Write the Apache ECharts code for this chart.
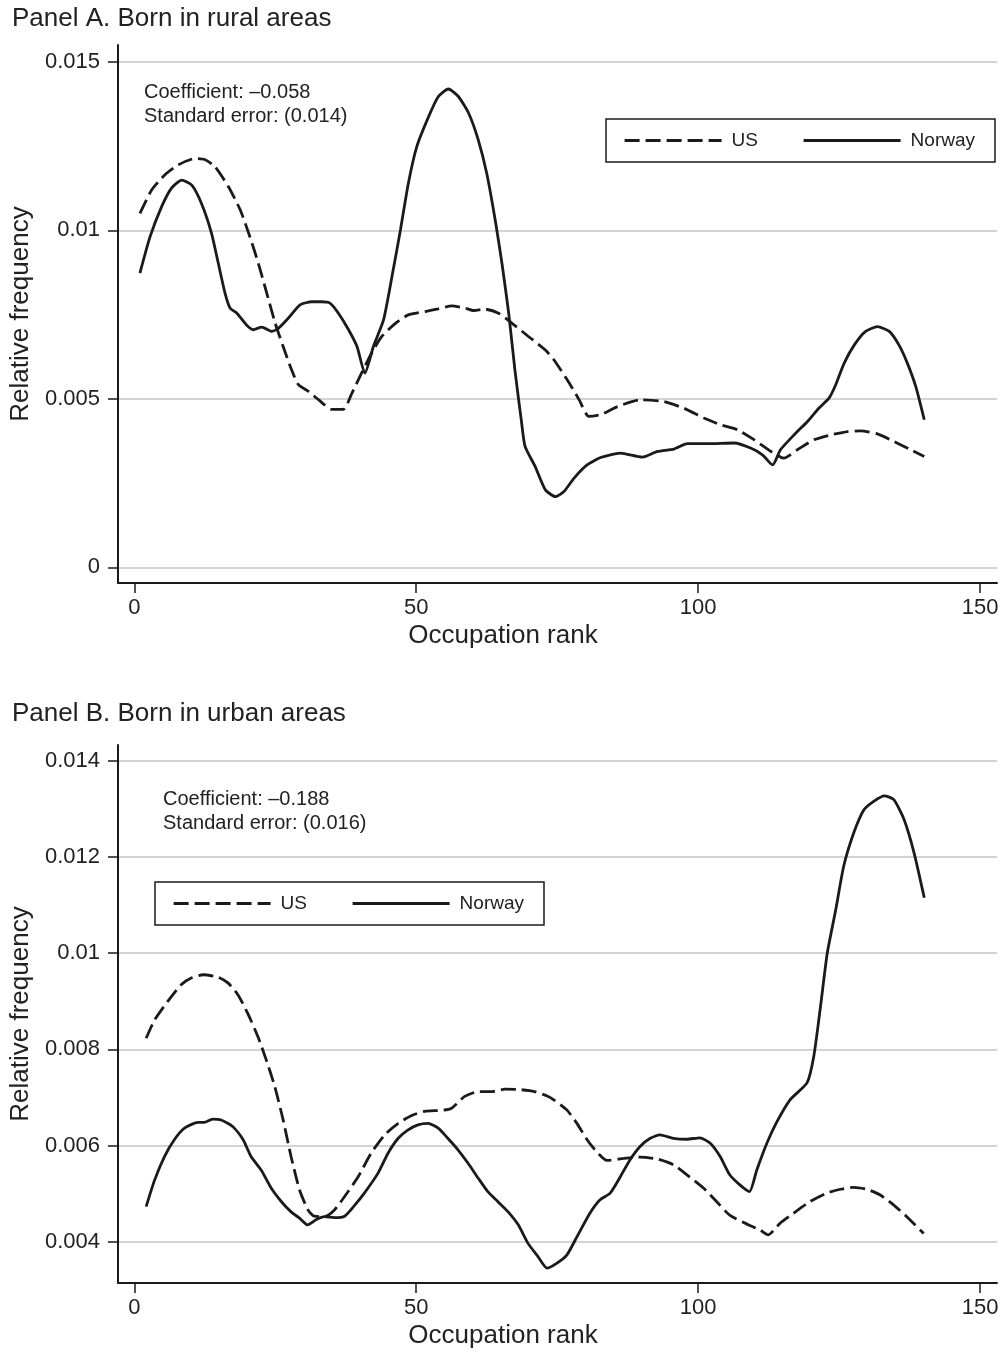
<!DOCTYPE html>
<html><head><meta charset="utf-8">
<script src="https://cdn.jsdelivr.net/npm/echarts@6/dist/echarts.min.js"></script>
<style>html,body{margin:0;padding:0;background:#fff}#c{width:1006px;height:1355px}</style>
</head><body><div id="c"></div><script>
// Panel A: born in rural areas  [occupation rank, relative frequency]
const ruralUS = [[1.0,0.0105],[3.1,0.0112],[5.4,0.01164],[7.8,0.01194],[10.8,0.01213],[12.5,0.0121],[14.3,0.01189],[16.7,0.01129],[18.8,0.0106],[20.5,0.00981],[22.0,0.00902],[23.5,0.00813],[25.0,0.00724],[26.4,0.00655],[27.9,0.00586],[29.1,0.00542],[30.9,0.00522],[32.7,0.00497],[35.0,0.00469],[37.1,0.00469],[38.6,0.00517],[40.3,0.00576],[42.1,0.00636],[43.9,0.00685],[46.3,0.00724],[48.6,0.00749],[51.6,0.00759],[53.9,0.00767],[56.3,0.00776],[58.7,0.00769],[60.2,0.00762],[62.2,0.00766],[64.6,0.00754],[67.0,0.00724],[69.9,0.00685],[72.9,0.00645],[74.4,0.00616],[76.8,0.00556],[78.9,0.00497],[80.6,0.00448],[82.7,0.00453],[85.7,0.00477],[89.8,0.00497],[93.9,0.00492],[97.5,0.00472],[101.0,0.00443],[104.0,0.00423],[107.0,0.00408],[109.9,0.00379],[112.9,0.00344],[115.2,0.00324],[117.6,0.00349],[120.6,0.00379],[123.5,0.00393],[126.5,0.00403],[128.8,0.00405],[131.8,0.00396],[134.8,0.00373],[137.7,0.00349],[140.1,0.00329]];
const ruralNorway = [[1.0,0.00873],[2.8,0.00981],[4.85,0.0107],[6.6,0.01125],[8.4,0.01149],[10.2,0.01134],[11.9,0.0108],[13.7,0.00991],[14.9,0.00902],[16.1,0.00813],[17.0,0.00769],[18.2,0.00754],[19.9,0.00719],[21.1,0.00705],[22.6,0.00713],[24.4,0.007],[25.6,0.0071],[27.3,0.00739],[29.4,0.00779],[31.5,0.00788],[33.2,0.00788],[34.7,0.00784],[36.2,0.00754],[38.0,0.00705],[39.5,0.00655],[40.9,0.00576],[42.4,0.00655],[44.2,0.00734],[45.7,0.00863],[47.2,0.01001],[48.6,0.01139],[50.1,0.01248],[52.2,0.01337],[53.9,0.01396],[55.7,0.01419],[57.5,0.01396],[59.3,0.01347],[61.0,0.01268],[62.5,0.01169],[64.0,0.01031],[65.2,0.00902],[66.4,0.00754],[67.5,0.00586],[68.7,0.00428],[69.3,0.00359],[71.1,0.00299],[72.9,0.0023],[74.7,0.0021],[76.2,0.00225],[78.0,0.00265],[80.3,0.00304],[82.7,0.00326],[86.2,0.00339],[90.1,0.00327],[92.8,0.00344],[95.7,0.00351],[98.1,0.00367],[101.6,0.00367],[106.4,0.00369],[109.3,0.00354],[111.4,0.00334],[113.2,0.00304],[114.6,0.00349],[117.0,0.00393],[119.4,0.00433],[121.4,0.00472],[123.2,0.00502],[124.4,0.00542],[125.9,0.00606],[127.7,0.0066],[129.7,0.007],[131.8,0.00714],[133.9,0.007],[135.6,0.0066],[137.1,0.00606],[138.6,0.00536],[140.1,0.00438]];
// Panel B: born in urban areas
const urbanUS = [[2.1,0.00823],[3.6,0.00861],[5.9,0.00899],[8.3,0.00934],[10.1,0.00948],[12.2,0.00955],[14.8,0.0095],[16.6,0.00938],[18.4,0.00913],[20.1,0.00875],[21.9,0.00827],[23.4,0.00778],[24.9,0.00723],[26.4,0.00653],[27.8,0.00577],[29.3,0.00508],[30.8,0.00466],[31.9,0.00453],[33.7,0.00452],[35.5,0.00466],[37.3,0.00494],[39.7,0.00535],[42.0,0.00584],[44.4,0.00622],[46.8,0.00646],[49.1,0.00662],[51.5,0.00671],[54.4,0.00673],[56.2,0.00677],[58.6,0.00702],[61.0,0.00712],[63.3,0.00712],[65.7,0.00717],[68.6,0.00716],[71.0,0.00712],[73.4,0.00702],[74.4,0.00695],[76.7,0.00674],[78.5,0.00646],[80.3,0.00612],[82.0,0.00587],[83.8,0.00569],[86.8,0.00573],[89.7,0.00576],[92.7,0.00572],[95.6,0.0056],[98.0,0.00539],[101.0,0.00511],[103.3,0.00483],[105.6,0.00455],[108.6,0.00437],[111.0,0.00424],[112.4,0.00414],[114.5,0.00438],[116.9,0.00459],[119.8,0.00483],[122.8,0.00501],[125.2,0.00509],[127.6,0.00513],[129.9,0.00509],[132.3,0.00497],[134.7,0.00476],[137.0,0.00452],[140.0,0.00417]];
const urbanNorway = [[2.1,0.00473],[3.6,0.00528],[5.35,0.00577],[7.1,0.00612],[8.9,0.00636],[11.3,0.00648],[12.4,0.00648],[13.9,0.00655],[15.4,0.00653],[17.5,0.00639],[19.3,0.00612],[20.7,0.00577],[22.5,0.00549],[24.3,0.00511],[26.1,0.00483],[27.8,0.00462],[29.3,0.00449],[30.7,0.00435],[32.3,0.00446],[33.7,0.00452],[35.5,0.0045],[37.3,0.00453],[39.1,0.00476],[40.8,0.00501],[43.2,0.00542],[45.0,0.00584],[46.8,0.00615],[48.5,0.00632],[50.3,0.00643],[52.1,0.00646],[53.9,0.00636],[55.6,0.00615],[57.4,0.00591],[59.2,0.00563],[61.0,0.00532],[62.7,0.00504],[64.5,0.00483],[66.3,0.00462],[68.1,0.00435],[69.8,0.00397],[71.6,0.00369],[73.2,0.00345],[74.9,0.00355],[76.7,0.00372],[78.5,0.0041],[80.8,0.00459],[82.6,0.00487],[84.4,0.00501],[86.2,0.00535],[87.9,0.0057],[89.7,0.00598],[91.5,0.00615],[93.2,0.00622],[95.6,0.00615],[98.0,0.00613],[100.3,0.00616],[102.1,0.00605],[103.9,0.00577],[105.6,0.00539],[107.4,0.00518],[109.1,0.00504],[110.4,0.00549],[112.2,0.00605],[114.0,0.0065],[116.3,0.00695],[119.3,0.0073],[120.5,0.00785],[121.7,0.00889],[122.9,0.01],[124.4,0.0109],[125.8,0.0118],[127.6,0.0125],[129.4,0.01298],[131.2,0.01316],[133.0,0.01327],[134.7,0.01319],[136.5,0.01278],[138.3,0.01208],[140.1,0.01115]];

const xTicks = [0, 50, 100, 150];
const ruralYTicks = [0, 0.005, 0.01, 0.015];
const urbanYTicks = [0.004, 0.006, 0.008, 0.01, 0.012, 0.014];
const seriesNames = ['US', 'Norway'];
const panelTitles = ['Panel A. Born in rural areas', 'Panel B. Born in urban areas'];
const notes = ['Coefficient: \u20130.058\nStandard error: (0.014)', 'Coefficient: \u20130.188\nStandard error: (0.016)'];
const xName = 'Occupation rank';
const yName = 'Relative frequency';

const FONT = '"Liberation Sans", Arial, Helvetica, sans-serif';
const INK = '#1a1a1a';
const TXT = '#222';
const fmt = v => String(+(+v).toFixed(4));

function xAxis(gi) {
  return {
    gridIndex: gi, type: 'value', min: -2.89, max: 153.0,
    axisLine: { show: true, onZero: false, lineStyle: { color: INK, width: 2 } },
    axisTick: { show: true, length: 10, customValues: xTicks, lineStyle: { color: INK, width: 1.5 } },
    axisLabel: { customValues: xTicks, margin: 14, fontSize: 22, color: TXT, fontFamily: FONT, formatter: fmt },
    splitLine: { show: false },
    name: xName, nameLocation: 'middle', nameGap: 40,
    nameTextStyle: { fontSize: 26, color: TXT, fontFamily: FONT, padding: [0, 109, 0, 0] }
  };
}
function yAxis(gi, min, max, ticks) {
  return {
    gridIndex: gi, type: 'value', min: min, max: max,
    axisLine: { show: true, onZero: false, lineStyle: { color: INK, width: 2 } },
    axisTick: { show: true, length: 10, customValues: ticks, lineStyle: { color: INK, width: 1.5 } },
    axisLabel: { customValues: ticks, margin: 18, fontSize: 22, color: TXT, fontFamily: FONT, formatter: fmt },
    splitLine: { show: true, lineStyle: { color: '#c6c6c6', width: 1.5 } },
    name: yName, nameLocation: 'middle', nameGap: 80,
    nameTextStyle: { fontSize: 26, color: TXT, fontFamily: FONT }
  };
}
function line(name, data, gi, dashed) {
  return {
    type: 'line', name: name, data: data, xAxisIndex: gi, yAxisIndex: gi,
    symbol: 'none', smooth: 0.2, silent: true, animation: false,
    lineStyle: { color: INK, width: 2.8, type: dashed ? [15, 6] : 'solid', cap: 'butt' },
    itemStyle: { color: INK }, z: 3
  };
}
function legend(left, top) {
  return {
    left: left, top: top, orient: 'horizontal', data: seriesNames, selectedMode: false,
    itemWidth: 97, itemHeight: 14, itemGap: 44, padding: [12, 20, 12, 17],
    borderColor: INK, borderWidth: 1.5, backgroundColor: '#fff', borderRadius: 0,
    itemStyle: { color: 'rgba(0,0,0,0)', borderWidth: 0, opacity: 0 },
    lineStyle: { width: 3.2, color: INK },
    textStyle: { fontSize: 19, color: TXT, fontFamily: FONT, lineHeight: 19, padding: [0, 0, 0, 5] }
  };
}

const chart = echarts.init(document.getElementById('c'), null, { renderer: 'canvas' });
chart.setOption({
  backgroundColor: '#fff',
  animation: false,
  title: [
    { text: panelTitles[0], left: 12, top: 6, padding: 0, textStyle: { fontSize: 26, fontWeight: 'normal', color: TXT, fontFamily: FONT } },
    { text: panelTitles[1], left: 12, top: 701, padding: 0, textStyle: { fontSize: 26, fontWeight: 'normal', color: TXT, fontFamily: FONT } }
  ],
  grid: [
    { left: 118, top: 45, width: 879, height: 538, outerBoundsMode: 'none', containLabel: false },
    { left: 118, top: 745, width: 879, height: 538, outerBoundsMode: 'none', containLabel: false }
  ],
  xAxis: [xAxis(0), xAxis(1)],
  yAxis: [yAxis(0, -0.000462, 0.015495, ruralYTicks), yAxis(1, 0.003141, 0.014326, urbanYTicks)],
  legend: [legend(606, 119), legend(155, 882)],
  series: [
    line('US', ruralUS, 0, true),
    line('Norway', ruralNorway, 0, false),
    line('US', urbanUS, 1, true),
    line('Norway', urbanNorway, 1, false)
  ],
  graphic: [
    { type: 'text', left: 144, top: 80, style: { text: notes[0], font: '20px ' + FONT, fill: TXT, lineHeight: 24 } },
    { type: 'text', left: 163, top: 787, style: { text: notes[1], font: '20px ' + FONT, fill: TXT, lineHeight: 24 } }
  ]
});
</script></body></html>
